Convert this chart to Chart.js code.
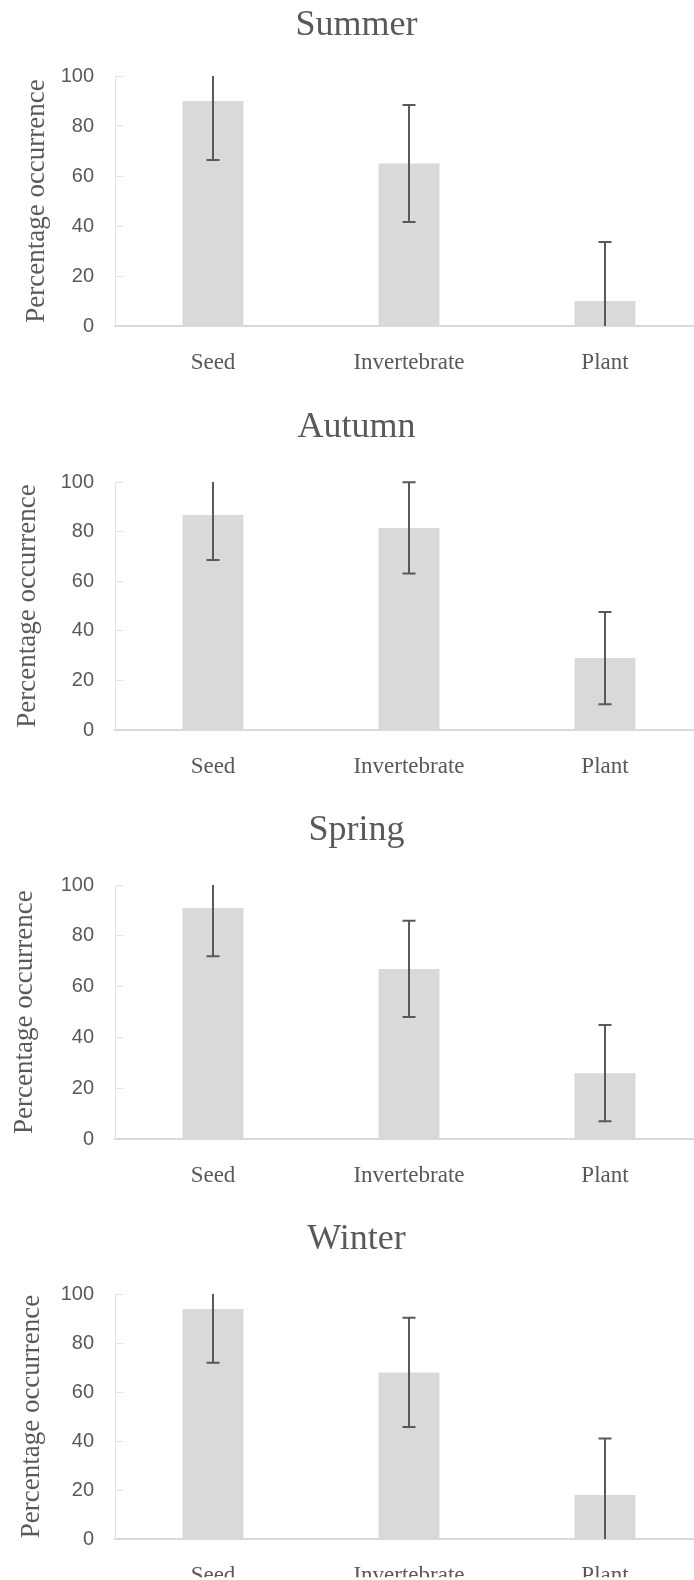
<!DOCTYPE html>
<html>
<head>
<meta charset="utf-8">
<script src="https://cdn.jsdelivr.net/npm/chart.js@4"></script>
<style>
  html, body { margin: 0; padding: 0; background: #fff; overflow: hidden; }
  body { width: 694px; height: 1580px; position: relative; }
  canvas { position: absolute; left: 0; }
</style>
</head>
<body>
<canvas id="summer" width="704" height="390" style="top:0px"></canvas>
<canvas id="autumn" width="704" height="410" style="top:390px"></canvas>
<canvas id="spring" width="704" height="400" style="top:800px"></canvas>
<canvas id="winter" width="704" height="380" style="top:1200px"></canvas>
<script>
const categories = ['Seed', 'Invertebrate', 'Plant'];
const yMin = 0, yMax = 100, yStep = 20;
const axisTitle = 'Percentage occurrence';

const summerValues = [90, 65, 10];
const summerErrors = [23.6, 23.4, 23.6];
const autumnValues = [86.7, 81.5, 29];
const autumnErrors = [18.2, 18.4, 18.6];
const springValues = [91, 67, 26];
const springErrors = [19, 18.9, 18.9];
const winterValues = [93.9, 68, 18];
const winterErrors = [22, 22.3, 23];

const TEXT = '#595959';
const SERIF = "'Liberation Serif', 'Times New Roman', serif";
const SANS = "'Liberation Sans', Arial, sans-serif";

// draws +/- error bars, clipped to the 0..100 range (no cap where clipped)
const errorBars = {
  id: 'errorBars',
  afterDatasetsDraw(chart) {
    const { ctx, scales: { y } } = chart;
    const ds = chart.data.datasets[0];
    const meta = chart.getDatasetMeta(0);
    const cap = 6.5;
    ctx.save();
    ctx.strokeStyle = '#595959';
    ctx.lineWidth = 2;
    meta.data.forEach((bar, i) => {
      const v = ds.data[i], e = ds.errors[i];
      const hi = v + e, lo = v - e;
      const yHi = y.getPixelForValue(Math.min(hi, yMax));
      const yLo = y.getPixelForValue(Math.max(lo, yMin));
      const x = Math.round(bar.x);
      ctx.beginPath();
      ctx.moveTo(x, yHi); ctx.lineTo(x, yLo);
      if (hi <= yMax) { ctx.moveTo(x - cap, yHi); ctx.lineTo(x + cap, yHi); }
      if (lo >= yMin) { ctx.moveTo(x - cap, yLo); ctx.lineTo(x + cap, yLo); }
      ctx.stroke();
    });
    ctx.restore();
  }
};

function renderSeason(id, title, values, errors, lay) {
  const el = document.getElementById(id);
  new Chart(el, {
    type: 'bar',
    data: {
      labels: categories,
      datasets: [{
        data: values,
        errors: errors,
        backgroundColor: '#d9d9d9',
        borderWidth: 0,
        barPercentage: 0.311,
        categoryPercentage: 1
      }]
    },
    options: {
      responsive: false,
      animation: false,
      layout: { padding: { left: 10, right: 1, top: 0, bottom: 0 } },
      plugins: {
        legend: { display: false },
        tooltip: { enabled: false },
        title: {
          display: true,
          text: title,
          color: TEXT,
          font: { family: SERIF, size: 36, weight: 'normal', lineHeight: 1.2 },
          padding: { top: lay.titleTop, bottom: lay.titleBottom }
        }
      },
      scales: {
        x: {
          grid: { display: false },
          border: { display: true, color: '#d9d9d9', width: 2 },
          ticks: { color: TEXT, padding: 15, maxRotation: 0, font: { family: SERIF, size: 23 } },
          afterFit: s => { s.height = lay.xHeight; }
        },
        y: {
          min: yMin, max: yMax,
          grid: { display: true, drawOnChartArea: false, drawTicks: true, tickLength: -8, color: '#e3e3e3', lineWidth: 1 },
          border: { display: true, color: '#e3e3e3', width: 1 },
          ticks: { stepSize: yStep, color: TEXT, padding: 29, font: { family: SANS, size: 20 } },
          title: {
            display: true, text: axisTitle, color: TEXT,
            font: { family: SERIF, size: 27, lineHeight: 1 },
            padding: { top: lay.axisTitlePad, bottom: 0 }
          },
          afterFit: s => { s.width = 105; }
        }
      }
    },
    plugins: [errorBars]
  });
}

renderSeason('summer', 'Summer', summerValues, summerErrors, { titleTop: 4.2, titleBottom: 28.6, xHeight: 64, axisTitlePad: 13.1 });
renderSeason('autumn', 'Autumn', autumnValues, autumnErrors, { titleTop: 16.3, titleBottom: 32.5, xHeight: 70, axisTitlePad: 4.1 });
renderSeason('spring', 'Spring', springValues, springErrors, { titleTop: 8.9, titleBottom: 32.9, xHeight: 60.7, axisTitlePad: 1.6 });
renderSeason('winter', 'Winter', winterValues, winterErrors, { titleTop: 17.9, titleBottom: 32.9, xHeight: 38.3, axisTitlePad: 8.1 });
</script>
</body>
</html>
